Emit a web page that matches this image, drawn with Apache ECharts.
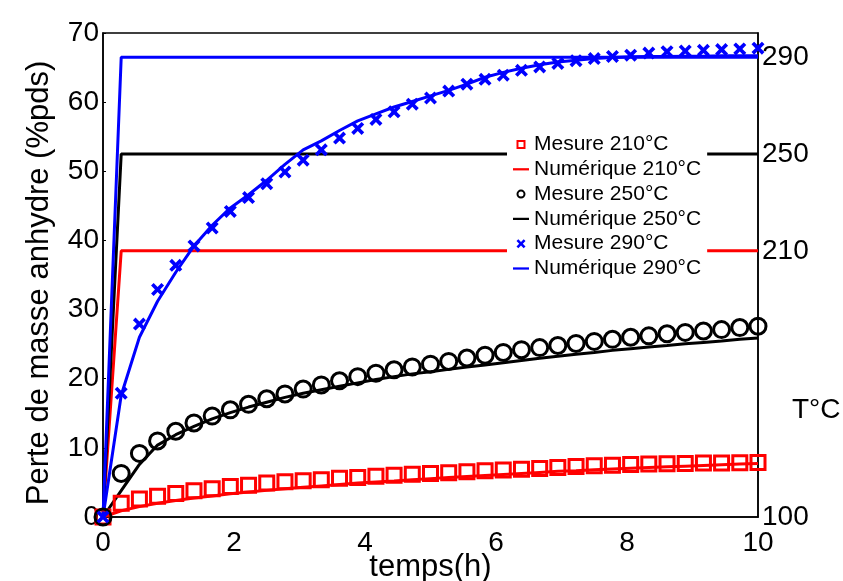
<!DOCTYPE html>
<html>
<head>
<meta charset="utf-8">
<script src="https://cdn.jsdelivr.net/npm/echarts@6/dist/echarts.min.js"></script>
<style>html,body{margin:0;padding:0;background:#fff}#c{width:843px;height:581px}</style>
</head>
<body>
<div id="c"></div>
<script>
var FONT = "'Liberation Sans', Arial, Helvetica, sans-serif";
var times = [0, 0.278, 0.556, 0.833, 1.111, 1.389, 1.667, 1.944, 2.222, 2.5, 2.778, 3.056, 3.333, 3.611, 3.889, 4.167, 4.444, 4.722, 5, 5.278, 5.556, 5.833, 6.111, 6.389, 6.667, 6.944, 7.222, 7.5, 7.778, 8.056, 8.333, 8.611, 8.889, 9.167, 9.444, 9.722, 10];
var mes210 = [0, 2.0, 2.6, 3.0, 3.4, 3.8, 4.1, 4.4, 4.6, 4.9, 5.1, 5.25, 5.4, 5.6, 5.7, 5.9, 6.05, 6.2, 6.3, 6.4, 6.55, 6.7, 6.8, 6.9, 7.0, 7.15, 7.3, 7.4, 7.5, 7.6, 7.65, 7.7, 7.75, 7.8, 7.8, 7.85, 7.9];
var num210 = [0, 0.9, 1.5, 2.0, 2.4, 2.75, 3.05, 3.35, 3.6, 3.85, 4.1, 4.3, 4.5, 4.7, 4.9, 5.05, 5.2, 5.4, 5.55, 5.7, 5.85, 6.0, 6.15, 6.3, 6.45, 6.6, 6.7, 6.85, 6.95, 7.05, 7.15, 7.25, 7.35, 7.45, 7.55, 7.65, 7.75];
var mes250 = [0, 6.3, 9.2, 11.0, 12.4, 13.6, 14.6, 15.5, 16.3, 17.1, 17.8, 18.5, 19.1, 19.7, 20.3, 20.8, 21.3, 21.7, 22.1, 22.5, 23.0, 23.4, 23.8, 24.2, 24.5, 24.8, 25.1, 25.4, 25.7, 26.0, 26.2, 26.5, 26.7, 26.9, 27.1, 27.4, 27.6];
var num250 = [0, 3.8, 7.6, 10.4, 11.9, 13.1, 14.2, 15.1, 15.9, 16.6, 17.3, 17.9, 18.4, 18.9, 19.4, 19.9, 20.3, 20.7, 21.0, 21.35, 21.7, 22.0, 22.3, 22.65, 22.95, 23.25, 23.55, 23.8, 24.1, 24.35, 24.6, 24.8, 25.05, 25.25, 25.45, 25.7, 25.9];
var mes290 = [0, 17.9, 27.9, 32.9, 36.4, 39.2, 41.8, 44.2, 46.2, 48.2, 49.9, 51.6, 53.1, 54.8, 56.2, 57.5, 58.6, 59.7, 60.6, 61.6, 62.6, 63.3, 63.9, 64.6, 65.1, 65.6, 66.0, 66.3, 66.6, 66.8, 67.1, 67.3, 67.4, 67.5, 67.6, 67.7, 67.8];
var num290 = [0, 17.6, 26.0, 31.2, 35.4, 39.2, 42.2, 44.7, 46.6, 48.7, 51.0, 53.1, 54.4, 55.9, 57.3, 58.3, 59.3, 60.1, 60.9, 61.7, 62.6, 63.6, 64.3, 64.9, 65.4, 65.8, 66.05, 66.3, 66.45, 66.55, 66.6, 66.6, 66.65, 66.65, 66.7, 66.7, 66.7];
var tempTimes = [0, 0.278, 10];
var temp210 = [100, 210, 210];
var temp250 = [100, 250, 250];
var temp290 = [100, 290, 290];
var rightTicks = [100, 210, 250, 290];
var legendNames = ['Mesure 210°C', 'Numérique 210°C', 'Mesure 250°C', 'Numérique 250°C', 'Mesure 290°C', 'Numérique 290°C'];

function zip(xs, ys) { return xs.map(function (x, i) { return [x, ys[i]]; }); }
var crossPath = 'path://M2,0L5,3L8,0L10,2L7,5L10,8L8,10L5,7L2,10L0,8L3,5L0,2Z';
var ringSquare = 'path://M0,0H10V10H0ZM2.2,2.2V7.8H7.8V2.2Z';
var ringCircle = 'path://M5,0A5,5 0 1,1 5,10A5,5 0 1,1 5,0ZM5,2.2A2.8,2.8 0 1,0 5,7.8A2.8,2.8 0 1,0 5,2.2Z';
var lineIcon = 'path://M0,0H17V2.4H0Z';

function tempLine(name, data, color) {
  return { name: name, type: 'line', yAxisIndex: 1, data: zip(tempTimes, data), symbol: 'none',
    lineStyle: { color: color, width: 3 }, itemStyle: { color: color }, animation: false, z: 1 };
}
function numLine(name, data, color) {
  return { name: name, type: 'line', data: zip(times, data), symbol: 'none', showSymbol: false,
    lineStyle: { color: color, width: 3 }, itemStyle: { color: color }, animation: false, z: 2 };
}
var legendColors = ['#ff0000', '#ff0000', '#000000', '#000000', '#0000ff', '#0000ff'];
var legendIcons = [ringSquare, lineIcon, ringCircle, lineIcon, crossPath, lineIcon];
var legendData = legendNames.map(function (n, i) {
  return { name: n, icon: legendIcons[i], itemStyle: { color: legendColors[i], borderWidth: 0, opacity: 1 } };
});

var chart = echarts.init(document.getElementById('c'), null, { renderer: 'canvas' });
chart.setOption({
  backgroundColor: '#fff',
  animation: false,
  grid: { left: 103, right: 85, top: 33, bottom: 64, containLabel: false, outerBoundsMode: 'none',
    show: true, borderColor: '#000', borderWidth: 1.5, backgroundColor: 'transparent' },
  xAxis: {
    type: 'value', min: 0, max: 10, interval: 2,
    name: 'temps(h)', nameLocation: 'middle', nameGap: 35, nameMoveOverlap: false,
    nameTextStyle: { fontSize: 31, fontFamily: FONT, color: '#000' },
    axisLine: { show: true, lineStyle: { color: '#000', width: 1.5 } },
    axisTick: { show: false },
    axisLabel: { fontSize: 28, fontFamily: FONT, color: '#000', margin: 12 },
    splitLine: { show: false }
  },
  yAxis: [{
    type: 'value', min: 0, max: 70, interval: 10,
    name: 'Perte de masse anhydre (%pds)', nameLocation: 'middle', nameGap: 48, nameMoveOverlap: false,
    nameTextStyle: { fontSize: 31, fontFamily: FONT, color: '#000', padding: [0, 16, 0, 0] },
    axisLine: { show: true, lineStyle: { color: '#000', width: 1.5 } },
    axisTick: { show: true, inside: true, length: 3, lineStyle: { color: '#000', width: 1 } },
    axisLabel: { fontSize: 28, fontFamily: FONT, color: '#000', margin: 4 },
    splitLine: { show: false }
  }, {
    type: 'value', min: 100, max: 300, interval: 10, position: 'right',
    axisLine: { show: true, lineStyle: { color: '#000', width: 1.5 } },
    axisTick: { show: false },
    axisLabel: { fontSize: 28, fontFamily: FONT, color: '#000', margin: 4,
      formatter: function (v) { return rightTicks.indexOf(Math.round(v)) >= 0 ? String(Math.round(v)) : ''; } },
    splitLine: { show: false }
  }],
  legend: {
    data: legendData, orient: 'vertical', left: 507, top: 130,
    backgroundColor: '#fff', padding: [4, 6, 6, 6], borderWidth: 0,
    itemWidth: 16, itemHeight: 9, itemGap: 3.8,
    textStyle: { fontSize: 21, fontFamily: FONT, color: '#000' }
  },
  graphic: [{ type: 'text', left: 792, top: 396, style: { text: 'T°C', fontSize: 28, fontFamily: FONT, fill: '#000' } }],
  series: [
    tempLine('T210', temp210, '#ff0000'),
    tempLine('T250', temp250, '#000000'),
    tempLine('T290', temp290, '#0000ff'),
    numLine('Numérique 210°C', num210, '#ff0000'),
    numLine('Numérique 250°C', num250, '#000000'),
    numLine('Numérique 290°C', num290, '#0000ff'),
    { name: 'Mesure 210°C', type: 'scatter', data: zip(times, mes210), symbol: 'rect', symbolSize: 14,
      itemStyle: { color: 'rgba(0,0,0,0)', borderColor: '#ff0000', borderWidth: 3, opacity: 1 }, z: 3 },
    { name: 'Mesure 250°C', type: 'scatter', data: zip(times, mes250), symbol: 'circle', symbolSize: 16,
      itemStyle: { color: 'rgba(0,0,0,0)', borderColor: '#000000', borderWidth: 3, opacity: 1 }, z: 3 },
    { name: 'Mesure 290°C', type: 'scatter', data: zip(times, mes290), symbol: crossPath, symbolSize: 13,
      itemStyle: { color: '#0000ff', opacity: 1 }, z: 3 }
  ]
});
</script>
</body>
</html>
